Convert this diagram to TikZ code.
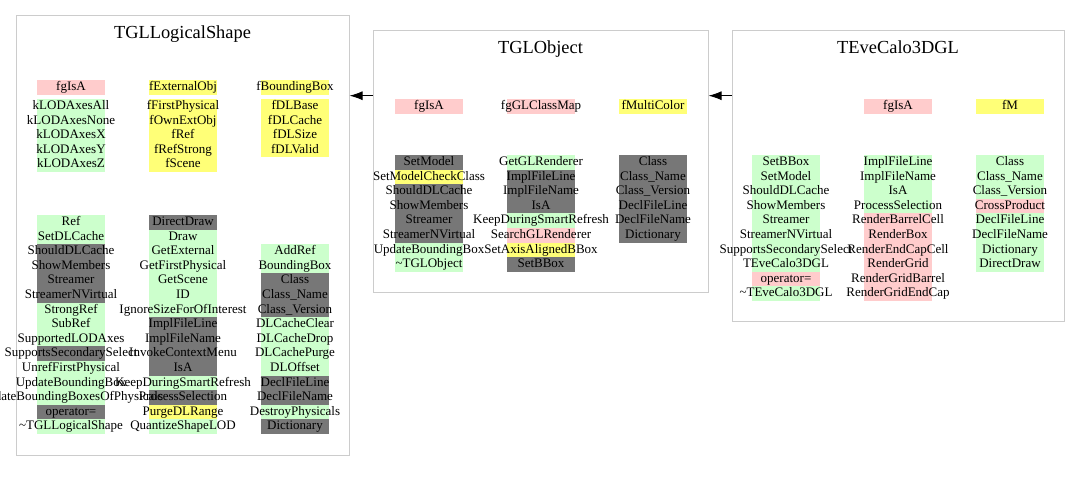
\documentclass[tikz,border=0pt]{standalone}
\usepackage{fontspec}
\setmainfont{Liberation Serif}
\usepackage{xcolor}
\usetikzlibrary{arrows.meta,calc,positioning}

\definecolor{mgreen}{RGB}{204,255,204}
\definecolor{mpink}{RGB}{255,204,204}
\definecolor{myellow}{RGB}{255,255,119}
\definecolor{mgray}{RGB}{119,119,119}
\definecolor{boxline}{RGB}{204,204,204}

\newcommand{\px}{0.75pt}
\pgfdeclarelayer{bg}
\pgfsetlayers{bg,main}

% one column of class members: prefix, left x, top y, list of text/colour
\newcommand{\memcol}[4]{%
  \foreach \txt/\col [count=\i from 0] in {#4} {
    \begin{pgfonlayer}{bg}
      \fill[\col] (#2,#3+\i*14.6) rectangle ++(68,14.6);
    \end{pgfonlayer}
    \node[member] (#1-\i) at (#2+34,#3+\i*14.6+10.5) {\txt};
  }}

\tikzset{
  classbox/.style={draw=boxline, line width=1*\px, inner sep=0pt},
  classtitle/.style={anchor=base, inner sep=0pt, font=\fontsize{13.8}{16}\selectfont},
  member/.style={anchor=base, inner sep=0pt, font=\fontsize{9.75}{11}\selectfont},
  inherit/.style={line width=1*\px, -{Latex[length=13*\px, width=9*\px]}}
}

\begin{document}
\begin{tikzpicture}[x=\px, y=-\px]
		\useasboundingbox (0,0) rectangle (1080,481);
		% classes
		\node[classbox, minimum width=333*\px, minimum height=439*\px] (logshape) at (182.5,235.5) {};
		\node[classbox, minimum width=335*\px, minimum height=261*\px] (globject) at (540.5,161.5) {};
		\node[classbox, minimum width=332*\px, minimum height=290*\px] (calo) at (898,176) {};
		\node[classtitle] (logshape-title) at (182.5,39) {TGLLogicalShape};
		\node[classtitle] (globject-title) at (540.5,53.5) {TGLObject};
		\node[classtitle] (calo-title) at (898,53.5) {TEveCalo3DGL};

		% TGLLogicalShape
		\memcol{ls-a1}{37}{80}{fgIsA/mpink}
		\memcol{ls-a1b}{37}{99}{kLODAxesAll/mgreen,kLODAxesNone/mgreen,kLODAxesX/mgreen,kLODAxesY/mgreen,kLODAxesZ/mgreen}
		\memcol{ls-a2}{149}{80}{fExternalObj/myellow}
		\memcol{ls-a2b}{149}{99}{fFirstPhysical/myellow,fOwnExtObj/myellow,fRef/myellow,fRefStrong/myellow,fScene/myellow}
		\memcol{ls-a3}{261}{80}{fBoundingBox/myellow}
		\memcol{ls-a3b}{261}{99}{fDLBase/myellow,fDLCache/myellow,fDLSize/myellow,fDLValid/myellow}
		\memcol{ls-m1}{37}{215}{Ref/mgreen,SetDLCache/mgreen,ShouldDLCache/mgray,ShowMembers/mgray,Streamer/mgray,StreamerNVirtual/mgray,StrongRef/mgreen,SubRef/mgreen,SupportedLODAxes/mgreen,SupportsSecondarySelect/mgray,UnrefFirstPhysical/mgreen,UpdateBoundingBox/mgreen,UpdateBoundingBoxesOfPhysicals/mgreen,operator=/mgray,\textasciitilde TGLLogicalShape/mgreen}
		\memcol{ls-m2}{149}{215}{DirectDraw/mgray,Draw/mgreen,GetExternal/mgreen,GetFirstPhysical/mgreen,GetScene/mgreen,ID/mgreen,IgnoreSizeForOfInterest/mgreen,ImplFileLine/mgray,ImplFileName/mgray,InvokeContextMenu/mgray,IsA/mgray,KeepDuringSmartRefresh/mgreen,ProcessSelection/mgray,PurgeDLRange/myellow,QuantizeShapeLOD/mgreen}
		\memcol{ls-m3}{261}{244.2}{AddRef/mgreen,BoundingBox/mgreen,Class/mgray,Class\_Name/mgray,Class\_Version/mgray,DLCacheClear/mgreen,DLCacheDrop/mgreen,DLCachePurge/mgreen,DLOffset/mgreen,DeclFileLine/mgray,DeclFileName/mgray,DestroyPhysicals/mgreen,Dictionary/mgray}

		% TGLObject
		\memcol{go-a1}{395}{99}{fgIsA/mpink}
		\memcol{go-a2}{507}{99}{fgGLClassMap/mpink}
		\memcol{go-a3}{619}{99}{fMultiColor/myellow}
		\memcol{go-m1}{395}{155}{SetModel/mgray,SetModelCheckClass/myellow,ShouldDLCache/mgray,ShowMembers/mgray,Streamer/mgray,StreamerNVirtual/mgray,UpdateBoundingBox/mgreen,\textasciitilde TGLObject/mgreen}
		\memcol{go-m2}{507}{155}{GetGLRenderer/mgreen,ImplFileLine/mgray,ImplFileName/mgray,IsA/mgray,KeepDuringSmartRefresh/mgreen,SearchGLRenderer/mpink,SetAxisAlignedBBox/myellow,SetBBox/mgray}
		\memcol{go-m3}{619}{155}{Class/mgray,Class\_Name/mgray,Class\_Version/mgray,DeclFileLine/mgray,DeclFileName/mgray,Dictionary/mgray}

		% TEveCalo3DGL
		\memcol{ca-a2}{864}{99}{fgIsA/mpink}
		\memcol{ca-a3}{976}{99}{fM/myellow}
		\memcol{ca-m1}{752}{155}{SetBBox/mgreen,SetModel/mgreen,ShouldDLCache/mgreen,ShowMembers/mgreen,Streamer/mgreen,StreamerNVirtual/mgreen,SupportsSecondarySelect/mgreen,TEveCalo3DGL/mgreen,operator=/mpink,\textasciitilde TEveCalo3DGL/mgreen}
		\memcol{ca-m2}{864}{155}{ImplFileLine/mgreen,ImplFileName/mgreen,IsA/mgreen,ProcessSelection/mgreen,RenderBarrelCell/mpink,RenderBox/mpink,RenderEndCapCell/mpink,RenderGrid/mpink,RenderGridBarrel/mpink,RenderGridEndCap/mpink}
		\memcol{ca-m3}{976}{155}{Class/mgreen,Class\_Name/mgreen,Class\_Version/mgreen,CrossProduct/mpink,DeclFileLine/mgreen,DeclFileName/mgreen,Dictionary/mgreen,DirectDraw/mgreen}

		% inheritance
		\draw[inherit] (globject.west |- 0,95.7) -- (logshape.east |- 0,95.7);
		\draw[inherit] (calo.west |- 0,95.7) -- (globject.east |- 0,95.7);
\end{tikzpicture}
\end{document}
